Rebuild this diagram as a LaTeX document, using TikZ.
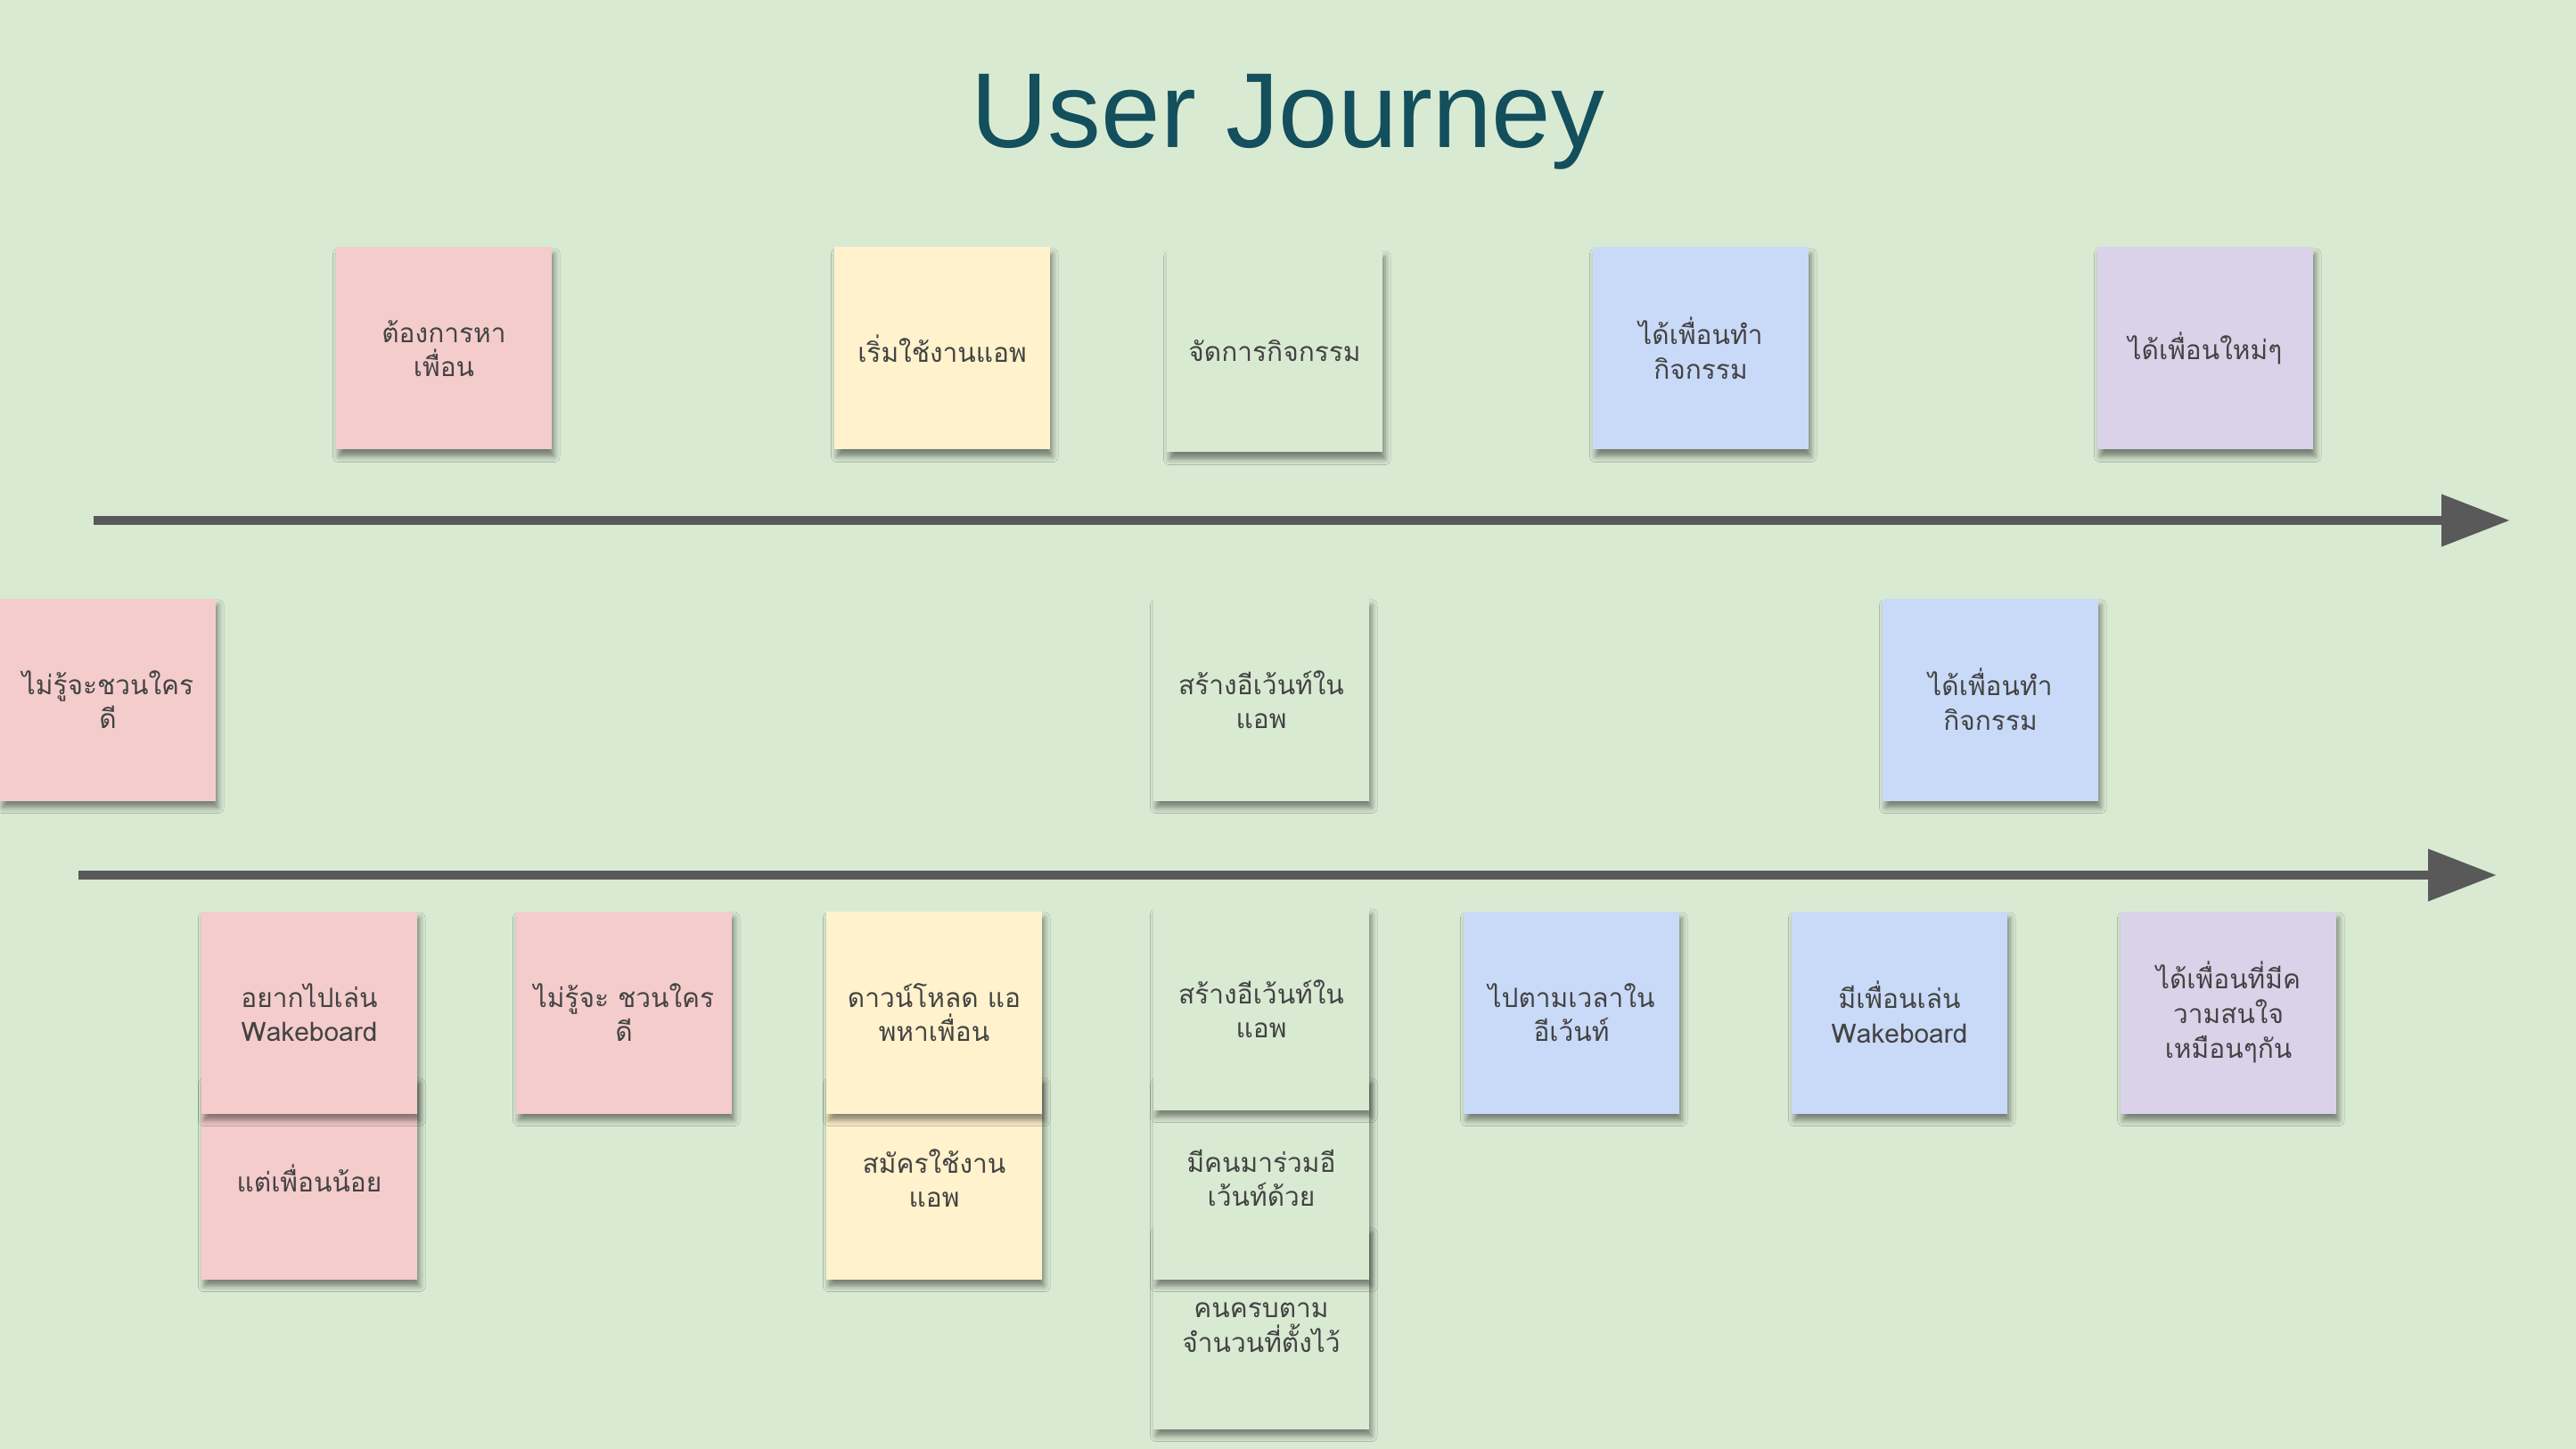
\documentclass[tikz,border=0pt]{standalone}
\usepackage{fontspec}
\setmainfont{Liberation Sans}
\newfontfamily\thaifont[Script=Thai]{Loma}
\usepackage{xcolor}
\usetikzlibrary{arrows.meta,shadows.blur}

\definecolor{bgGreen}{HTML}{D9EAD3}
\definecolor{notePink}{HTML}{F4CCCC}
\definecolor{noteYellow}{HTML}{FFF2CC}
\definecolor{noteGreen}{HTML}{D9EAD3}
\definecolor{noteBlue}{HTML}{C9DAF8}
\definecolor{notePurple}{HTML}{D9D2E9}
\definecolor{inkGray}{HTML}{434343}
\definecolor{arrowGray}{HTML}{595959}
\definecolor{titleTeal}{HTML}{134F5C}

\tikzset{
  note/.style={fill=#1, minimum width=2.42cm, minimum height=2.27cm, inner sep=0pt,
    align=center, text=inkGray, font=\thaifont\fontsize{8.5}{11}\selectfont,
    blur shadow={shadow xshift=0.8pt, shadow yshift=-2.2pt, shadow blur radius=1.8pt, shadow opacity=45}},
  timeline/.style={draw=arrowGray, line width=3.1pt, -{Triangle[length=0.77cm,width=0.56cm]}}
}

\begin{document}
\begin{tikzpicture}[x=1cm,y=-1cm]
            \useasboundingbox (0,0) rectangle (28.90,16.26);
            \fill[bgGreen] (0,0) rectangle (28.90,16.26);

            \node[anchor=base, text=titleTeal, font=\fontsize{34}{41}\selectfont] (title) at (14.45,1.66) {User Journey};

            \node[note=notePink]   (t1) at (4.98,3.91)  {ต้องการหา\\เพื่อน};
            \node[note=noteYellow] (t2) at (10.57,3.91) {เริ่มใช้งานแอพ};
            \node[note=noteGreen]  (t3) at (14.30,3.94) {จัดการกิจกรรม};
            \node[note=noteBlue]   (t4) at (19.08,3.91) {ได้เพื่อนทำ\\กิจกรรม};
            \node[note=notePurple] (t5) at (24.74,3.91) {ได้เพื่อนใหม่ๆ};

            % upper timeline
            \coordinate (a1s) at (1.05,5.84);
            \coordinate (a1e) at (28.16,5.84);
            \draw[timeline] (a1s) -- (a1e);

            \node[note=notePink]  (m1) at (1.21,7.85)  {ไม่รู้จะชวนใคร\\ดี};
            \node[note=noteGreen] (m2) at (14.15,7.85) {สร้างอีเว้นท์ใน\\แอพ};
            \node[note=noteBlue]  (m3) at (22.33,7.85) {ได้เพื่อนทำ\\กิจกรรม};

            % lower timeline
            \coordinate (a2s) at (0.88,9.82);
            \coordinate (a2e) at (28.01,9.82);
            \draw[timeline] (a2s) -- (a2e);

            \node[note=notePink] (b1b) at (3.47,13.22) {แต่เพื่อนน้อย};
            \node[note=notePink] (b1a) at (3.47,11.36) {อยากไปเล่น\\Wakeboard};
            \node[note=notePink] (b2)  at (7.00,11.36) {ไม่รู้จะ ชวนใคร\\ดี};

            \node[note=noteYellow] (b3b) at (10.48,13.22) {สมัครใช้งาน\\แอพ};
            \node[note=noteYellow] (b3a) at (10.48,11.36) {ดาวน์โหลด แอ\\พหาเพื่อน};

            \node[note=noteGreen] (b4c) at (14.15,14.90) {คนครบตาม\\จำนวนที่ตั้งไว้};
            \node[note=noteGreen] (b4b) at (14.15,13.22) {มีคนมาร่วมอี\\เว้นท์ด้วย};
            \node[note=noteGreen] (b4a) at (14.15,11.32) {สร้างอีเว้นท์ใน\\แอพ};

            \node[note=noteBlue]   (b5) at (17.63,11.36) {ไปตามเวลาใน\\อีเว้นท์};
            \node[note=noteBlue]   (b6) at (21.31,11.36) {มีเพื่อนเล่น\\Wakeboard};
            \node[note=notePurple] (b7) at (25.00,11.36) {ได้เพื่อนที่มีค\\วามสนใจ\\เหมือนๆกัน};
        \end{tikzpicture}
\end{document}
